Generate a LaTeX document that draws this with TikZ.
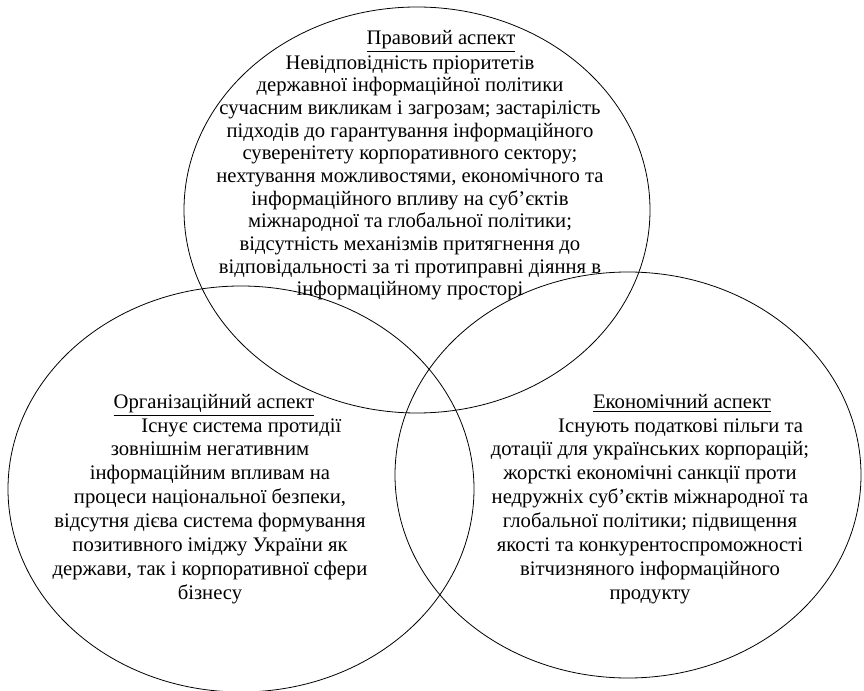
\documentclass[tikz,border=0pt]{standalone}
\usepackage{fontspec}
\setmainfont{Liberation Serif}
\usetikzlibrary{shapes.geometric}
\begin{document}
\begin{tikzpicture}[x=0.75pt,y=-0.75pt,
  oval/.style={ellipse, draw, line width=0.6pt, minimum width=349.5pt, minimum height=304.5pt, inner sep=0pt},
  head/.style={inner sep=0pt, anchor=base, font=\fontsize{15.5}{17}\selectfont},
  bodytop/.style={inner sep=0pt, align=center, font=\fontsize{15.5}{17.0}\selectfont},
  bodylow/.style={inner sep=0pt, align=center, font=\fontsize{15.5}{17.9}\selectfont}]
\useasboundingbox (0,0) rectangle (864,691);
\node[oval] (ovtop) at (417,210) {};
\node[oval] (ovleft) at (241,489) {};
\node[oval] (ovright) at (628,475) {};

\node[head] (htop) at (441,45) {\underline{Правовий аспект}};
\node[bodytop] (ttop) at (410,178) {Невідповідність пріоритетів\\
державної інформаційної політики\\
сучасним викликам і загрозам; застарілість\\
підходів до гарантування інформаційного\\
суверенітету корпоративного сектору;\\
нехтування можливостями, економічного та\\
інформаційного впливу на суб’єктів\\
міжнародної та глобальної політики;\\
відсутність механізмів притягнення до\\
відповідальності за ті протиправні діяння в\\
інформаційному просторі};

\node[head] (hleft) at (214,409) {\underline{Організаційний аспект}};
\node[bodylow] (tleft) at (210,511) {\hspace*{47pt}Існує система протидії\\
зовнішнім негативним\\
інформаційним впливам на\\
процеси національної безпеки,\\
відсутня дієва система формування\\
позитивного іміджу України як\\
держави, так і корпоративної сфери\\
бізнесу};

\node[head] (hright) at (682,409) {\underline{Економічний аспект}};
\node[bodylow] (tright) at (650,511) {\hspace*{46pt}Існують податкові пільги та\\
дотації для українських корпорацій;\\
жорсткі економічні санкції проти\\
недружніх суб’єктів міжнародної та\\
глобальної політики; підвищення\\
якості та конкурентоспроможності\\
вітчизняного інформаційного\\
продукту};
\end{tikzpicture}
\end{document}
